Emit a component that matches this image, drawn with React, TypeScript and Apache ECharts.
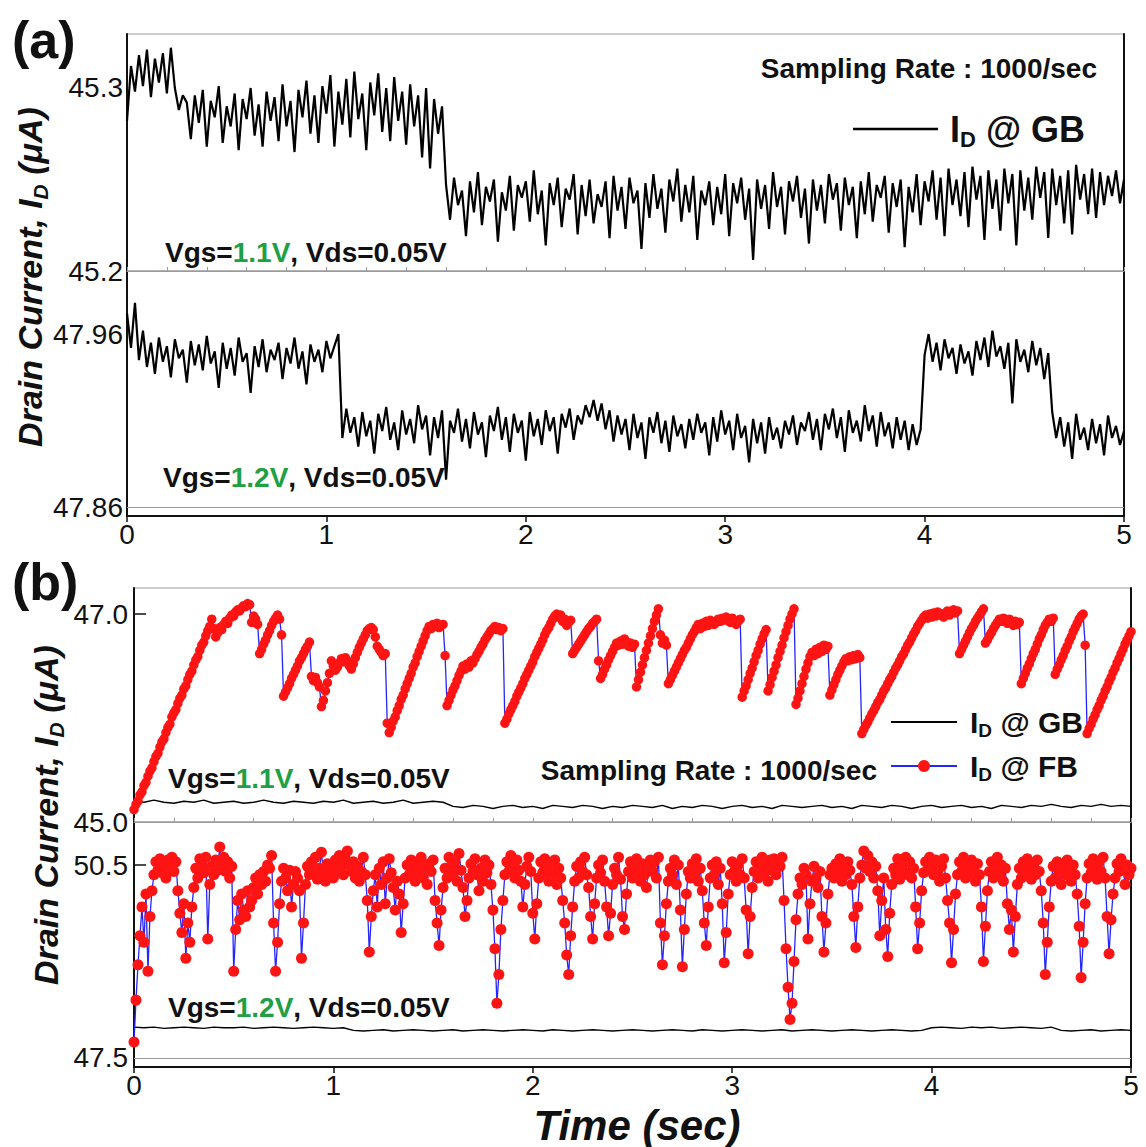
import React, { useEffect, useRef } from "react";
import * as echarts from "echarts";

// sample spacing (s) of the plotted traces
const DT_GB_A = 0.02;
const DT_FB = 0.01;
const DT_GB_B = 0.05;

const X_TICKS = [0, 1, 2, 3, 4, 5];
const Y_LABELS_A_TOP = [45.2, 45.3];
const Y_LABELS_A_BOT = [47.86, 47.96];
const Y_LABELS_B_TOP = [45.0, 47.0];
const Y_LABELS_B_BOT = [47.5, 50.5];

// (a) upper: I_D @ GB, Vgs=1.1V (uA)
const gb11A = [
  45.282, 45.312, 45.298, 45.318, 45.301, 45.321, 45.295, 45.316, 45.303, 45.319,
  45.297, 45.322, 45.300, 45.288, 45.296,
  45.292, 45.272, 45.296, 45.281, 45.299, 45.268, 45.293, 45.284, 45.301, 45.270,
  45.290, 45.279, 45.297, 45.266, 45.294, 45.283, 45.300, 45.274, 45.291, 45.268,
  45.298, 45.282, 45.295, 45.271, 45.302, 45.279, 45.293, 45.265, 45.299, 45.284,
  45.304, 45.275, 45.296, 45.270, 45.301, 45.286, 45.307, 45.268, 45.298, 45.280,
  45.305, 45.273, 45.309, 45.283, 45.297, 45.266, 45.303, 45.285, 45.308, 45.276,
  45.300, 45.271, 45.306, 45.282, 45.298, 45.269, 45.302, 45.279, 45.296, 45.262,
  45.300, 45.256, 45.294, 45.275,
  45.290,
  45.247, 45.228, 45.251, 45.236, 45.244, 45.219, 45.249, 45.232, 45.254, 45.225,
  45.246, 45.238, 45.250, 45.216, 45.243, 45.233, 45.252, 45.222, 45.247, 45.240,
  45.249, 45.227, 45.255, 45.231, 45.244, 45.214, 45.248, 45.236, 45.251, 45.224,
  45.245, 45.239, 45.253, 45.220, 45.247, 45.230, 45.250, 45.226, 45.242, 45.235,
  45.249, 45.218, 45.252, 45.233, 45.246, 45.223, 45.251, 45.237, 45.244, 45.212,
  45.248, 45.229, 45.253, 45.234, 45.245, 45.221, 45.250, 45.238, 45.256, 45.227,
  45.247, 45.232, 45.252, 45.217, 45.244, 45.236, 45.249, 45.225, 45.246, 45.231,
  45.253, 45.219, 45.248, 45.237, 45.251, 45.228, 45.245, 45.206, 45.250, 45.234,
  45.247, 45.223, 45.254, 45.235, 45.246, 45.220, 45.249, 45.238, 45.252, 45.229,
  45.245, 45.215, 45.250, 45.233, 45.247, 45.226, 45.253, 45.239, 45.248, 45.222,
  45.251, 45.236, 45.246, 45.218, 45.249, 45.231, 45.254, 45.227, 45.247, 45.240,
  45.252, 45.221, 45.248, 45.235, 45.250, 45.213, 45.246, 45.232, 45.253, 45.225,
  45.249, 45.238, 45.255, 45.228, 45.251, 45.219, 45.256, 45.236, 45.250, 45.230,
  45.254, 45.224, 45.257, 45.239, 45.252, 45.217, 45.255, 45.234, 45.250, 45.222,
  45.256, 45.237, 45.253, 45.214, 45.255, 45.233, 45.251, 45.228, 45.257, 45.240,
  45.254, 45.218, 45.256, 45.236, 45.252, 45.226, 45.255, 45.220, 45.258, 45.239,
  45.253, 45.231, 45.256, 45.229, 45.254, 45.236, 45.252, 45.241, 45.255, 45.237, 45.250,
];

// (a) lower: I_D @ GB, Vgs=1.2V (uA)
const gb12A = [
  47.972, 47.952, 47.978,
  47.945, 47.962, 47.941, 47.955, 47.937, 47.958, 47.944, 47.953, 47.935, 47.957,
  47.946, 47.951, 47.932, 47.956, 47.942, 47.954, 47.939, 47.959, 47.943, 47.950,
  47.929, 47.955, 47.940, 47.952, 47.936, 47.958, 47.944, 47.949, 47.926, 47.953,
  47.941, 47.957, 47.938, 47.951, 47.945, 47.955, 47.934, 47.952, 47.943, 47.958,
  47.940, 47.950, 47.931, 47.954, 47.944, 47.951, 47.938, 47.956, 47.946, 47.953,
  47.960,
  47.900, 47.917, 47.903, 47.912, 47.895, 47.915, 47.901, 47.910, 47.891, 47.914,
  47.904, 47.918, 47.899, 47.909, 47.893, 47.916, 47.902, 47.911, 47.897, 47.919,
  47.905, 47.913, 47.890, 47.912, 47.900, 47.916, 47.876, 47.910, 47.903, 47.917,
  47.898, 47.911, 47.894, 47.915, 47.902, 47.909, 47.889, 47.913, 47.904, 47.918,
  47.899, 47.912, 47.892, 47.914, 47.903, 47.910, 47.887, 47.915, 47.901, 47.911,
  47.896, 47.916, 47.904, 47.912, 47.891, 47.914, 47.906, 47.917, 47.899, 47.913,
  47.908, 47.919, 47.912, 47.922, 47.910, 47.920, 47.905, 47.916, 47.898, 47.913,
  47.902, 47.911, 47.893, 47.914, 47.900, 47.909, 47.888, 47.912, 47.903, 47.915,
  47.897, 47.910, 47.892, 47.913, 47.901, 47.908, 47.894, 47.911, 47.899, 47.914,
  47.903, 47.909, 47.890, 47.912, 47.898, 47.916, 47.902, 47.910, 47.893, 47.914,
  47.900, 47.907, 47.886, 47.911, 47.897, 47.909, 47.891, 47.912, 47.899, 47.906,
  47.894, 47.910, 47.902, 47.913, 47.896, 47.909, 47.904, 47.915, 47.899, 47.911,
  47.893, 47.914, 47.905, 47.917, 47.900, 47.912, 47.892, 47.916, 47.903, 47.910,
  47.898, 47.919, 47.904, 47.913, 47.895, 47.915, 47.901, 47.909, 47.894, 47.912,
  47.899, 47.910, 47.893, 47.908, 47.896, 47.905,
  47.948, 47.960, 47.944, 47.955, 47.939, 47.957, 47.946, 47.952, 47.937, 47.954,
  47.943, 47.950, 47.936, 47.956, 47.945, 47.958, 47.941, 47.962, 47.947, 47.953,
  47.940, 47.955, 47.920, 47.957, 47.944, 47.951, 47.938, 47.956, 47.942, 47.952,
  47.934, 47.949,
  47.915, 47.900, 47.912, 47.895, 47.909, 47.888, 47.914, 47.899, 47.906, 47.893,
  47.911, 47.897, 47.908, 47.890, 47.913, 47.900, 47.907, 47.896, 47.904,
];

// (b) upper: I_D @ FB, Vgs=1.1V (uA), one value per 10 ms
const fb11 = [
  45.12, 45.17, 45.20, 45.26, 45.29, 45.35, 45.38, 45.44, 45.49, 45.52,
  45.58, 45.63, 45.66, 45.72, 45.77, 45.80, 45.86, 45.91, 45.94, 46.01,
  46.05, 46.08, 46.14, 46.19, 46.22, 46.28, 46.31, 46.37, 46.42, 46.45,
  46.51, 46.56, 46.59, 46.65, 46.70, 46.73, 46.79, 46.84, 46.88, 46.95,
  46.86, 46.78, 46.82, 46.87, 46.85, 46.90, 46.93, 46.91, 46.96, 46.99,
  46.98, 47.02, 47.04, 47.03, 47.06, 47.08, 47.07, 47.10, 47.09, 46.92,
  46.98, 46.95, 46.90, 46.62, 46.66, 46.71, 46.75, 46.80, 46.84, 46.89,
  46.93, 46.96, 46.99, 46.95, 46.80, 46.21, 46.25, 46.29, 46.33, 46.38,
  46.42, 46.46, 46.50, 46.55, 46.58, 46.62, 46.66, 46.69, 46.73, 46.40,
  46.36, 46.39, 46.34, 46.30, 46.11, 46.17, 46.26, 46.34, 46.43, 46.55,
  46.50, 46.46, 46.49, 46.53, 46.57, 46.54, 46.58, 46.55, 46.50, 46.47,
  46.52, 46.58, 46.63, 46.68, 46.72, 46.76, 46.80, 46.84, 46.86, 46.87,
  46.85, 46.78, 46.69, 46.66, 46.63, 46.60, 46.62, 45.95, 45.86, 45.91,
  45.97, 46.01, 46.07, 46.12, 46.18, 46.22, 46.28, 46.33, 46.38, 46.43,
  46.49, 46.53, 46.59, 46.64, 46.69, 46.74, 46.79, 46.84, 46.88, 46.86,
  46.90, 46.88, 46.91, 46.87, 46.89, 46.90, 46.60, 46.12, 46.17, 46.22,
  46.27, 46.31, 46.36, 46.41, 46.45, 46.50, 46.47, 46.52, 46.49, 46.55,
  46.53, 46.57, 46.61, 46.64, 46.68, 46.71, 46.75, 46.78, 46.81, 46.84,
  46.86, 46.88, 46.85, 46.87, 46.84, 46.86, 45.95, 45.99, 46.04, 46.08,
  46.12, 46.16, 46.21, 46.25, 46.29, 46.33, 46.38, 46.42, 46.46, 46.50,
  46.54, 46.59, 46.63, 46.67, 46.71, 46.75, 46.80, 46.84, 46.87, 46.91,
  46.95, 46.98, 47.00, 46.97, 46.99, 46.93, 46.95, 46.89, 46.92, 46.94,
  46.62, 46.65, 46.68, 46.71, 46.74, 46.77, 46.80, 46.83, 46.86, 46.88,
  46.91, 46.93, 46.95, 46.55, 46.38, 46.42, 46.47, 46.51, 46.56, 46.60,
  46.64, 46.68, 46.72, 46.70, 46.74, 46.71, 46.76, 46.73, 46.69, 46.72,
  46.68, 46.71, 46.30, 46.37, 46.44, 46.51, 46.58, 46.65, 46.72, 46.79,
  46.86, 46.93, 46.99, 47.05, 46.80, 46.72, 46.75, 46.70, 46.33, 46.37,
  46.41, 46.45, 46.49, 46.53, 46.57, 46.61, 46.65, 46.68, 46.72, 46.76,
  46.80, 46.83, 46.87, 46.90, 46.86, 46.91, 46.88, 46.93, 46.89, 46.94,
  46.91, 46.90, 46.92, 46.95, 46.93, 46.96, 46.94, 46.97, 46.95, 46.92,
  46.96, 46.94, 46.90, 46.93, 46.95, 46.20, 46.26, 46.31, 46.37, 46.43,
  46.48, 46.54, 46.60, 46.65, 46.71, 46.76, 46.81, 46.85, 46.26, 46.32,
  46.39, 46.45, 46.51, 46.58, 46.64, 46.70, 46.77, 46.83, 46.89, 46.95,
  47.00, 47.05, 46.13, 46.19, 46.26, 46.33, 46.40, 46.47, 46.53, 46.59,
  46.63, 46.60, 46.66, 46.62, 46.68, 46.64, 46.70, 46.66, 46.69, 46.22,
  46.27, 46.32, 46.37, 46.42, 46.46, 46.50, 46.54, 46.57, 46.55, 46.59,
  46.56, 46.60, 46.57, 46.61, 46.58, 45.85, 45.89, 45.93, 45.96, 46.00,
  46.04, 46.07, 46.11, 46.15, 46.18, 46.22, 46.26, 46.29, 46.33, 46.37,
  46.40, 46.44, 46.48, 46.51, 46.55, 46.59, 46.62, 46.66, 46.70, 46.73,
  46.77, 46.81, 46.84, 46.88, 46.91, 46.94, 46.97, 46.99, 46.96, 47.00,
  46.97, 47.01, 46.98, 47.02, 46.99, 47.00, 46.97, 47.01, 47.03, 46.99,
  47.02, 47.04, 47.01, 47.03, 46.62, 46.66, 46.70, 46.74, 46.78, 46.82,
  46.86, 46.89, 46.93, 46.96, 46.99, 47.02, 47.05, 46.72, 46.75, 46.79,
  46.82, 46.86, 46.89, 46.92, 46.95, 46.93, 46.96, 46.94, 46.91, 46.95,
  46.92, 46.89, 46.93, 46.90, 46.92, 46.33, 46.38, 46.43, 46.48, 46.52,
  46.57, 46.62, 46.66, 46.71, 46.76, 46.80, 46.85, 46.89, 46.92, 46.95,
  46.93, 46.96, 46.42, 46.47, 46.51, 46.56, 46.60, 46.65, 46.69, 46.74,
  46.78, 46.83, 46.87, 46.91, 46.95, 46.98, 47.00, 46.70, 45.85, 45.90,
  45.94, 45.99, 46.03, 46.08, 46.12, 46.17, 46.21, 46.26, 46.30, 46.35,
  46.39, 46.44, 46.48, 46.53, 46.57, 46.62, 46.66, 46.71, 46.75, 46.79,
  46.83,
];

// (b) lower: I_D @ FB, Vgs=1.2V (uA), one value per 10 ms
const fb12 = [
  47.75, 48.40, 48.95, 49.40, 49.85, 49.30, 50.05, 48.85, 49.70, 50.10,
  50.35, 50.55, 50.42, 50.60, 50.38, 50.52, 50.30, 50.58, 50.45, 50.62,
  50.40, 50.55, 50.10, 49.75, 49.45, 49.90, 49.05, 49.60, 49.30, 49.85,
  50.15, 50.45, 50.30, 50.60, 50.50, 50.38, 50.62, 49.35, 50.20, 50.48,
  50.35, 50.58, 50.42, 50.78, 50.50, 50.62, 50.40, 50.55, 50.30, 50.48,
  48.85, 49.50, 49.95, 49.65, 50.05, 49.80, 49.70, 50.10, 49.85, 49.95,
  50.15, 50.30, 50.05, 50.35, 50.20, 50.40, 50.25, 50.50, 50.45, 50.65,
  49.60, 48.85, 49.30, 49.90, 50.25, 50.45, 50.30, 50.10, 50.42, 49.85,
  50.20, 50.40, 50.30, 50.10, 49.05, 49.60, 50.20, 50.48, 50.35, 50.55,
  50.40, 50.62, 50.28, 50.45, 50.70, 50.38, 50.25, 50.52, 50.35, 50.48,
  50.30, 50.58, 50.42, 50.65, 50.48, 50.35, 50.60, 50.72, 50.50, 50.40,
  50.55, 50.30, 50.48, 50.25, 50.40, 50.62, 50.35, 49.95, 49.15, 49.70,
  50.10, 50.35, 49.85, 50.45, 50.20, 50.55, 49.90, 50.30, 50.60, 50.38,
  50.15, 49.80, 50.25, 50.05, 49.45, 49.90, 50.30, 50.50, 50.35, 50.58,
  50.42, 50.25, 50.55, 50.38, 50.62, 50.30, 50.48, 50.20, 50.52, 50.40,
  50.58, 49.95, 49.60, 49.25, 49.80, 50.15, 50.45, 50.30, 50.62, 50.48,
  50.35, 50.55, 50.25, 50.68, 50.42, 50.15, 49.70, 49.95, 50.30, 50.52,
  50.40, 50.60, 50.35, 50.10, 50.45, 50.25, 50.58, 50.38, 50.50, 50.20,
  49.80, 49.20, 48.35, 48.80, 49.50, 49.95, 50.35, 50.55, 50.40, 50.65,
  50.50, 50.30, 50.58, 50.42, 50.25, 49.85, 50.20, 50.48, 50.62, 50.40,
  49.75, 49.35, 49.90, 50.30, 50.55, 50.38, 50.60, 50.45, 50.25, 50.52,
  50.35, 50.58, 50.20, 50.45, 50.30, 49.95, 49.60, 49.10, 48.80, 49.40,
  49.85, 50.25, 50.48, 50.30, 50.55, 50.40, 50.62, 50.35, 50.15, 49.70,
  49.35, 49.90, 50.30, 50.50, 50.38, 50.58, 50.25, 49.85, 49.40, 49.75,
  50.20, 50.45, 50.35, 50.62, 50.28, 49.70, 49.50, 50.05, 50.40, 50.55,
  50.30, 50.48, 50.60, 50.40, 50.25, 50.52, 50.35, 50.15, 50.45, 50.58,
  50.40, 50.55, 50.30, 50.62, 49.60, 48.95, 49.40, 49.90, 50.25, 50.45,
  50.35, 50.58, 50.20, 50.50, 49.80, 48.92, 49.50, 50.05, 50.40, 50.30,
  50.52, 50.38, 50.60, 50.25, 50.45, 50.10, 49.60, 49.25, 49.85, 50.30,
  50.50, 50.35, 50.55, 50.20, 50.45, 49.90, 48.98, 49.45, 50.05, 50.35,
  50.55, 50.40, 50.25, 50.50, 50.35, 50.60, 50.30, 49.80, 49.12, 49.70,
  50.15, 50.40, 50.55, 50.30, 50.48, 50.62, 50.38, 50.52, 50.25, 50.58,
  50.42, 50.60, 50.35, 50.55, 50.48, 50.62, 49.95, 49.20, 48.60, 48.10,
  48.35, 49.00, 49.65, 50.05, 50.30, 50.20, 50.45, 50.35, 49.35, 49.90,
  50.25, 50.48, 50.30, 50.15, 50.40, 49.70, 49.15, 49.60, 50.05, 50.35,
  50.45, 50.30, 50.52, 50.38, 50.60, 50.25, 50.48, 50.35, 50.55, 50.42,
  50.20, 49.70, 49.22, 49.85, 50.30, 50.50, 50.72, 50.45, 50.65, 50.40,
  50.55, 50.30, 50.48, 50.10, 49.40, 49.95, 50.30, 49.50, 49.08, 49.75,
  50.20, 50.45, 50.35, 50.60, 50.28, 50.50, 50.40, 50.62, 50.35, 50.55,
  50.30, 50.45, 49.85, 49.20, 49.60, 50.10, 50.38, 50.55, 50.42, 50.62,
  50.50, 50.35, 50.58, 50.40, 50.25, 50.48, 50.60, 50.30, 49.95, 49.60,
  48.98, 49.50, 50.05, 50.35, 50.55, 50.40, 50.62, 50.30, 50.50, 50.38,
  50.58, 50.45, 50.25, 50.52, 50.35, 49.85, 49.00, 49.55, 50.10, 50.40,
  50.55, 50.30, 50.48, 50.62, 50.35, 50.50, 50.25, 50.45, 49.90, 49.50,
  49.80, 49.15, 49.70, 50.20, 50.45, 50.30, 50.55, 50.38, 50.60, 50.42,
  50.28, 50.52, 50.35, 50.58, 50.40, 50.10, 49.60, 48.80, 49.30, 49.85,
  50.25, 50.48, 50.30, 50.55, 50.40, 50.20, 50.50, 50.35, 50.58, 50.42,
  50.25, 50.50, 50.35, 50.05, 49.55, 48.75, 49.30, 49.90, 50.30, 50.52,
  50.38, 50.60, 50.45, 50.28, 50.55, 50.40, 50.62, 50.30, 49.70, 49.12,
  49.65, 50.05, 50.30, 50.52, 50.40, 50.60, 50.45, 50.20, 50.50, 50.35,
  50.45,
];

// (b) upper: I_D @ GB, Vgs=1.1V, one value per 50 ms
const gb11B = [
  45.20, 45.19, 45.21, 45.19, 45.18, 45.20, 45.19, 45.21, 45.18, 45.19,
  45.20, 45.18, 45.19, 45.21, 45.19, 45.18, 45.20, 45.19, 45.18, 45.20,
  45.19, 45.21, 45.18, 45.19, 45.20, 45.18, 45.19, 45.21, 45.18, 45.19,
  45.20, 45.19, 45.15, 45.14, 45.16, 45.15, 45.13, 45.15, 45.16, 45.14,
  45.15, 45.13, 45.16, 45.15, 45.14, 45.16, 45.15, 45.13, 45.15, 45.14,
  45.16, 45.15, 45.14, 45.16, 45.13, 45.15, 45.14, 45.16, 45.15, 45.13,
  45.15, 45.16, 45.14, 45.15, 45.13, 45.16, 45.15, 45.14, 45.15, 45.16,
  45.14, 45.15, 45.13, 45.16, 45.15, 45.14, 45.16, 45.15, 45.13, 45.15,
  45.16, 45.14, 45.15, 45.16, 45.14, 45.15, 45.13, 45.16, 45.15, 45.14,
  45.16, 45.15, 45.17, 45.15, 45.14, 45.16, 45.15, 45.17, 45.15, 45.16,
  45.15,
];

// (b) lower: I_D @ GB, Vgs=1.2V, one value per 50 ms
const gb12B = [
  47.98, 47.97, 47.98, 47.96, 47.97, 47.98, 47.97, 47.96, 47.98, 47.97,
  47.97, 47.98, 47.96, 47.97, 47.98, 47.97, 47.96, 47.97, 47.98, 47.97,
  47.96, 47.97, 47.93, 47.92, 47.93, 47.94, 47.92, 47.93, 47.94, 47.93,
  47.92, 47.93, 47.94, 47.92, 47.93, 47.94, 47.93, 47.92, 47.93, 47.94,
  47.93, 47.92, 47.94, 47.93, 47.92, 47.93, 47.94, 47.93, 47.92, 47.93,
  47.94, 47.93, 47.92, 47.93, 47.94, 47.93, 47.92, 47.94, 47.93, 47.92,
  47.93, 47.94, 47.93, 47.92, 47.93, 47.94, 47.92, 47.93, 47.94, 47.93,
  47.92, 47.93, 47.94, 47.93, 47.92, 47.93, 47.94, 47.93, 47.92, 47.93,
  47.97, 47.98, 47.97, 47.96, 47.98, 47.97, 47.98, 47.96, 47.97, 47.98,
  47.97, 47.96, 47.98, 47.93, 47.92, 47.93, 47.94, 47.92, 47.93, 47.94,
  47.93,
];

const FONT = '"Liberation Sans", Arial, Helvetica, sans-serif';
const GREY = "#9a9a9a";
const INK = "#111111";
const GREEN = "#1fa045";

function pairs(values: number[], dt: number) {
  return values.map((v, i) => [Math.round(i * dt * 1000) / 1000, v]);
}

function xTop(gi: number) {
  return {
    gridIndex: gi, type: "value", min: 0, max: 5, interval: 0.2, position: "bottom",
    axisLine: { show: true, onZero: false, lineStyle: { color: GREY, width: 1.2 } },
    axisTick: { show: true, inside: true, length: 4, lineStyle: { color: GREY, width: 1 } },
    axisLabel: { show: false }, splitLine: { show: false },
  };
}
function xBottom(gi: number) {
  return {
    gridIndex: gi, type: "value", min: 0, max: 5, interval: 1, position: "bottom",
    axisLine: { show: true, onZero: false, lineStyle: { color: INK, width: 2 } },
    axisTick: { show: true, length: 6, lineStyle: { color: INK, width: 1.5 } },
    axisLabel: { customValues: X_TICKS, fontSize: 28, color: INK, fontFamily: FONT, margin: 4 },
    splitLine: { show: false },
  };
}
function yLeft(gi: number, min: number, max: number, labels: number[], decimals: number, tickAt: number[], margin: number) {
  return {
    gridIndex: gi, type: "value", min, max, position: "left",
    axisLine: { show: true, onZero: false, lineStyle: { color: INK, width: 2 } },
    axisTick: { show: tickAt.length > 0, inside: true, length: 12, customValues: tickAt, lineStyle: { color: INK, width: 1.5 } },
    axisLabel: { customValues: labels, formatter: (v: number) => v.toFixed(decimals), fontSize: 28, color: INK, fontFamily: FONT, margin },
    splitLine: { show: false },
  };
}
function yRight(gi: number, min: number, max: number) {
  return {
    gridIndex: gi, type: "value", min, max, position: "right",
    axisLine: { show: true, onZero: false, lineStyle: { color: INK, width: 2 } },
    axisTick: { show: false }, axisLabel: { show: false }, splitLine: { show: false },
  };
}

const gridLine = (y: number) => ({
  silent: true, symbol: "none", label: { show: false },
  lineStyle: { color: GREY, width: 1.2, type: "solid" }, data: [{ yAxis: y }],
});

function vgsText(x: number, y: number, vgs: string) {
  return {
    type: "text", x, y, silent: true,
    style: {
      text: `{b|Vgs=}{g|${vgs}}{b|, Vds=0.05V}`,
      align: "left", verticalAlign: "middle",
      rich: {
        b: { fontSize: 28, fontWeight: "bold", fontFamily: FONT, fill: INK },
        g: { fontSize: 28, fontWeight: "bold", fontFamily: FONT, fill: GREEN },
      },
    },
  };
}
function plainText(x: number, y: number, text: string, size: number, align: string, italic = false) {
  return {
    type: "text", x, y, silent: true,
    style: { text, fontSize: size, fontWeight: "bold", fontStyle: italic ? "italic" : "normal", fontFamily: FONT, fill: INK, align, verticalAlign: "middle" },
  };
}
function idText(x: number, y: number, suffix: string, size: number) {
  const lh = Math.round(size * 1.2);
  const sub = Math.round(size * 0.62);
  return {
    type: "text", x, y, silent: true,
    style: {
      text: `{m|I}{s|D}{m| ${suffix}}`, align: "left", verticalAlign: "middle",
      rich: {
        m: { fontSize: size, fontWeight: "bold", fontFamily: FONT, fill: INK, lineHeight: lh },
        s: { fontSize: sub, fontWeight: "bold", fontFamily: FONT, fill: INK, lineHeight: sub, verticalAlign: "bottom" },
      },
    },
  };
}
function yTitle(x: number, y: number) {
  return {
    type: "text", x, y, rotation: Math.PI / 2, silent: true,
    style: {
      text: "{t|Drain Current, I}{s|D}{t| (μA)}", align: "center", verticalAlign: "middle",
      rich: {
        t: { fontSize: 34, fontWeight: "bold", fontStyle: "italic", fontFamily: FONT, fill: INK, lineHeight: 42 },
        s: { fontSize: 21, fontWeight: "bold", fontStyle: "italic", fontFamily: FONT, fill: INK, lineHeight: 21, verticalAlign: "bottom" },
      },
    },
  };
}

function buildOption() {
  const gridBase = { show: true, borderColor: GREY, borderWidth: 1.2, backgroundColor: "transparent", containLabel: false };
  const A_TOP: [number, number] = [45.2, 45.3295];
  const A_BOT: [number, number] = [47.855, 47.9964];
  const B_TOP: [number, number] = [45.0, 47.25];
  const B_BOT: [number, number] = [47.36, 51.17];
  const fbStyle = {
    type: "line", symbol: "circle", showAllSymbol: true, silent: true,
    itemStyle: { color: "#ff1414", borderWidth: 0 },
    lineStyle: { color: "#2424ff", width: 1.3 },
    emphasis: { disabled: true }, z: 4,
  };
  const gbStyle = { type: "line", symbol: "none", showSymbol: false, silent: true, emphasis: { disabled: true }, z: 3 };
  return {
    animation: false,
    backgroundColor: "#ffffff",
    grid: [
      { ...gridBase, left: 127, top: 34, width: 997, height: 237 },
      { ...gridBase, left: 127, top: 271, width: 997, height: 245 },
      { ...gridBase, left: 134, top: 588, width: 997, height: 234 },
      { ...gridBase, left: 134, top: 822, width: 997, height: 245 },
    ],
    xAxis: [xTop(0), xBottom(1), xTop(2), xBottom(3)],
    yAxis: [
      yLeft(0, A_TOP[0], A_TOP[1], Y_LABELS_A_TOP, 1, [], 4),
      yLeft(1, A_BOT[0], A_BOT[1], Y_LABELS_A_BOT, 2, [], 4),
      yLeft(2, B_TOP[0], B_TOP[1], Y_LABELS_B_TOP, 1, [47.0], 6),
      yLeft(3, B_BOT[0], B_BOT[1], Y_LABELS_B_BOT, 1, [50.5], 6),
      yRight(0, A_TOP[0], A_TOP[1]),
      yRight(1, A_BOT[0], A_BOT[1]),
      yRight(2, B_TOP[0], B_TOP[1]),
      yRight(3, B_BOT[0], B_BOT[1]),
    ],
    series: [
      { ...gbStyle, name: "ID @ GB 1.1V", xAxisIndex: 0, yAxisIndex: 0, data: pairs(gb11A, DT_GB_A), lineStyle: { color: "#000", width: 2.2 } },
      { ...gbStyle, name: "ID @ GB 1.2V", xAxisIndex: 1, yAxisIndex: 1, data: pairs(gb12A, DT_GB_A), lineStyle: { color: "#000", width: 2.2 }, markLine: gridLine(47.86) },
      { ...gbStyle, name: "ID @ GB b1", xAxisIndex: 2, yAxisIndex: 2, data: pairs(gb11B, DT_GB_B), lineStyle: { color: "#000", width: 1.4 } },
      { ...fbStyle, name: "ID @ FB 1.1V", xAxisIndex: 2, yAxisIndex: 2, symbolSize: 9.5, data: pairs(fb11, DT_FB) },
      { ...gbStyle, name: "ID @ GB b2", xAxisIndex: 3, yAxisIndex: 3, data: pairs(gb12B, DT_GB_B), lineStyle: { color: "#000", width: 1.4 }, markLine: gridLine(47.5) },
      { ...fbStyle, name: "ID @ FB 1.2V", xAxisIndex: 3, yAxisIndex: 3, symbolSize: 11, data: pairs(fb12, DT_FB) },
    ],
    graphic: {
      elements: [
        plainText(12, 40, "(a)", 52, "left"),
        plainText(12, 582, "(b)", 52, "left"),
        yTitle(30, 277),
        yTitle(46, 815),
        plainText(1097, 68, "Sampling Rate : 1000/sec", 28, "right"),
        { type: "line", silent: true, shape: { x1: 853, y1: 129, x2: 938, y2: 129 }, style: { stroke: "#000", lineWidth: 2.5 } },
        idText(950, 129, "@ GB", 36),
        vgsText(165, 252, "1.1V"),
        vgsText(163, 477, "1.2V"),
        vgsText(168, 778, "1.1V"),
        vgsText(168, 1007, "1.2V"),
        { type: "line", silent: true, shape: { x1: 891, y1: 722, x2: 957, y2: 722 }, style: { stroke: "#000", lineWidth: 2 } },
        idText(970, 722, "@ GB", 30),
        { type: "line", silent: true, shape: { x1: 891, y1: 766, x2: 957, y2: 766 }, style: { stroke: "#2424ff", lineWidth: 2 } },
        { type: "circle", silent: true, shape: { cx: 924, cy: 766, r: 6 }, style: { fill: "#ff1414" } },
        idText(970, 766, "@ FB", 30),
        plainText(877, 770, "Sampling Rate : 1000/sec", 28, "right"),
        plainText(637, 1125, "Time (sec)", 42, "center", true),
      ],
    },
  };
}

export default function App() {
  const ref = useRef<HTMLDivElement>(null);
  useEffect(() => {
    document.body.style.margin = "0";
    if (!ref.current) return;
    const chart = echarts.init(ref.current, null, { renderer: "svg" });
    chart.setOption(buildOption() as any);
    return () => chart.dispose();
  }, []);
  return (
    <div
      ref={ref}
      style={{ position: "absolute", left: 0, top: 0, width: 1146, height: 1147, background: "#fff" }}
    />
  );
}
